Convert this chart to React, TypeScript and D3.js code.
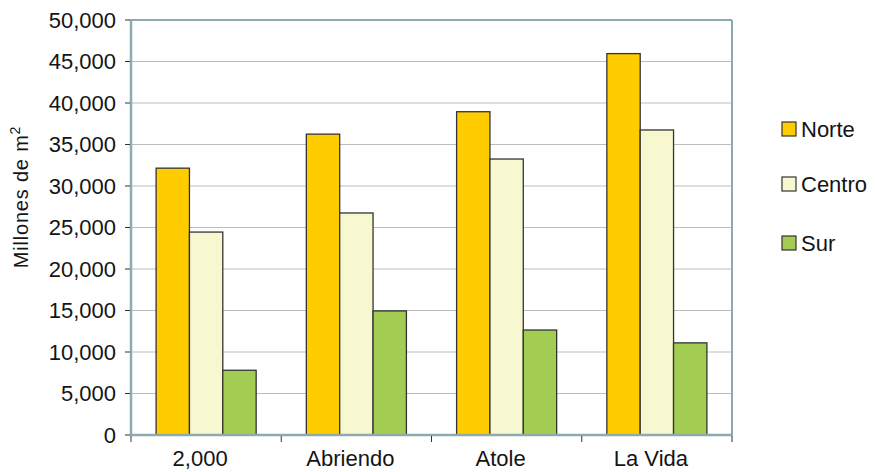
import React from "react";
import * as d3 from "d3";

const categories = ["2,000", "Abriendo", "Atole", "La Vida"];
const seriesNames = ["Norte", "Centro", "Sur"];
const norte = [32150, 36250, 38950, 45950];
const centro = [24450, 26750, 33250, 36750];
const sur = [7800, 14950, 12650, 11100];
const yTicks = [0, 5000, 10000, 15000, 20000, 25000, 30000, 35000, 40000, 45000, 50000];
const colors = ["#FFCC00", "#F7F7D0", "#A3CC52"];

export default function App() {
  const W = 875, H = 472;
  const left = 131, right = 732, top = 20, bottom = 435;
  const series = [norte, centro, sur];
  const x0 = d3.scaleBand<string>().domain(categories).range([left, right]).paddingInner(0).paddingOuter(0);
  const y = d3.scaleLinear().domain([0, 50000]).range([bottom, top]);
  const bw = x0.bandwidth();
  const x1 = d3.scaleBand<string>().domain(seriesNames).range([bw * 0.167, bw * 0.833]).padding(0);
  const fmt = d3.format(",");
  const font = "Liberation Sans, Arial, Helvetica, sans-serif";
  const axisColor = "#8FAAAC";
  const legendY = [129, 184, 243];
  const textColor = "#141414";

  return (
    <svg width={W} height={H} style={{ position: "absolute", left: 0, top: 0, background: "#fff" }} fontFamily={font}>
      {yTicks.slice(1).map((t) => (
        <line key={"g" + t} x1={left} x2={right} y1={y(t)} y2={y(t)} stroke="#BDBDBD" strokeWidth={1.2} />
      ))}
      {categories.map((c, i) => (
        <g key={c}>
          {seriesNames.map((s, j) => {
            const v = series[j][i];
            const bx = (x0(c) as number) + (x1(s) as number);
            return (
              <rect key={s} x={bx} y={y(v)} width={x1.bandwidth()} height={bottom - y(v)}
                fill={colors[j]} stroke="#333" strokeWidth={1.3} />
            );
          })}
        </g>
      ))}
      {/* frame */}
      <line x1={left} x2={right} y1={top} y2={top} stroke={axisColor} strokeWidth={2} />
      <line x1={right} x2={right} y1={top} y2={bottom} stroke={axisColor} strokeWidth={2} />
      <line x1={left} x2={left} y1={top - 1} y2={bottom + 1} stroke={axisColor} strokeWidth={2.5} />
      <line x1={left - 1} x2={right + 1} y1={bottom} y2={bottom} stroke={axisColor} strokeWidth={2.5} />
      {/* y ticks */}
      {yTicks.map((t) => (
        <g key={"t" + t}>
          <line x1={left - 6} x2={left - 1} y1={y(t)} y2={y(t)} stroke="#333" strokeWidth={1} />
          <text x={116} y={y(t)} dy="0.36em" textAnchor="end" fontSize={22} fill={textColor}>{fmt(t)}</text>
        </g>
      ))}
      {/* x ticks */}
      {[...categories.map((c) => x0(c) as number), right].map((xv, i) => (
        <line key={"xt" + i} x1={xv} x2={xv} y1={bottom + 1} y2={bottom + 7} stroke="#333" strokeWidth={1} />
      ))}
      {categories.map((c) => (
        <text key={"l" + c} x={(x0(c) as number) + bw / 2 - 6} y={466} textAnchor="middle" fontSize={22} fill={textColor}>{c}</text>
      ))}
      {/* y label */}
      <text transform={`translate(28,197) rotate(-90)`} textAnchor="middle" fontSize={20} letterSpacing={0.8} fill={textColor}>
        Millones de m<tspan fontSize={14} dy={-8}>2</tspan>
      </text>
      {/* legend */}
      {seriesNames.map((s, j) => (
        <g key={"lg" + s}>
          <rect x={782} y={legendY[j] - 7} width={14} height={14} fill={colors[j]} stroke="#333" strokeWidth={1.2} />
          <text x={801} y={legendY[j]} dy="0.36em" fontSize={22} fill={textColor}>{s}</text>
        </g>
      ))}
    </svg>
  );
}
